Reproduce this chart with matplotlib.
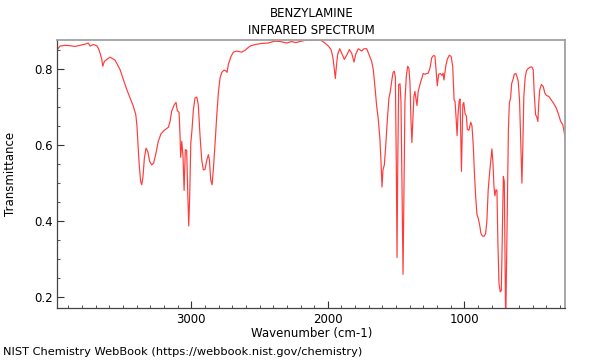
import matplotlib
matplotlib.use("Agg")
import matplotlib.pyplot as plt
from matplotlib.ticker import MultipleLocator

title = "BENZYLAMINE\nINFRARED SPECTRUM"
x_label = "Wavenumber (cm-1)"
y_label = "Transmittance"
footer = "NIST Chemistry WebBook (https://webbook.nist.gov/chemistry)"

wavenumber = [
    3982, 3962, 3925, 3889, 3852, 3815, 3779, 3755, 3742, 3718, 3693, 3681, 3669, 3656, 3649,
    3637, 3596, 3559, 3522, 3498, 3473, 3449, 3425, 3407, 3398, 3390, 3381, 3371, 3363, 3354,
    3344, 3332, 3319, 3305, 3290, 3276, 3259, 3242, 3222, 3198, 3168, 3156, 3144, 3125, 3112,
    3103, 3090, 3083, 3078, 3070, 3061, 3053, 3044, 3034, 3027, 3019, 3012, 3004, 2995, 2985,
    2973, 2960, 2949, 2936, 2924, 2912, 2900, 2887, 2875, 2868, 2858, 2848, 2839, 2826, 2814,
    2802, 2790, 2777, 2760, 2748, 2738, 2729, 2709, 2692, 2667, 2631, 2607, 2570, 2533, 2484,
    2436, 2387, 2350, 2301, 2265, 2235, 2204, 2167, 2118, 2070, 2045, 2021, 1996, 1977, 1964,
    1955, 1945, 1938, 1928, 1913, 1898, 1879, 1859, 1842, 1825, 1808, 1796, 1777, 1752, 1735,
    1715, 1699, 1679, 1667, 1655, 1642, 1630, 1618, 1610, 1603, 1596, 1586, 1576, 1564, 1552,
    1542, 1532, 1522, 1513, 1505, 1498, 1493, 1488, 1481, 1471, 1464, 1457, 1449, 1442, 1435,
    1425, 1415, 1406, 1398, 1391, 1384, 1377, 1369, 1362, 1355, 1347, 1338, 1325, 1313, 1301,
    1288, 1276, 1264, 1251, 1239, 1227, 1215, 1207, 1198, 1188, 1176, 1163, 1156, 1149, 1136,
    1124, 1110, 1097, 1085, 1075, 1068, 1061, 1053, 1046, 1038, 1031, 1026, 1021, 1016, 1011,
    1004, 995, 985, 978, 966, 953, 944, 934, 927, 917, 907, 898, 888, 878, 866,
    854, 844, 835, 825, 815, 805, 798, 790, 783, 776, 768, 761, 754, 746, 737,
    729, 722, 714, 707, 702, 697, 685, 677, 670, 661, 653, 644, 634, 622, 612,
    605, 595, 586, 578, 571, 564, 554, 544, 532, 517, 505, 495, 488, 478, 469,
    461, 454, 447, 435, 422, 410, 398, 381, 364, 346, 326, 309, 294, 279, 267,
    257,
]
transmittance = [
    0.850, 0.859, 0.861, 0.860, 0.858, 0.861, 0.864, 0.867, 0.859, 0.863, 0.860, 0.853, 0.841, 0.824, 0.806,
    0.819, 0.830, 0.822, 0.797, 0.771, 0.745, 0.723, 0.701, 0.679, 0.648, 0.596, 0.543, 0.503, 0.495, 0.517,
    0.565, 0.591, 0.582, 0.556, 0.547, 0.552, 0.578, 0.609, 0.629, 0.638, 0.646, 0.661, 0.688, 0.705, 0.711,
    0.690, 0.685, 0.627, 0.567, 0.609, 0.569, 0.480, 0.587, 0.585, 0.482, 0.387, 0.464, 0.604, 0.640, 0.692,
    0.723, 0.725, 0.705, 0.622, 0.561, 0.534, 0.535, 0.559, 0.574, 0.561, 0.508, 0.495, 0.534, 0.604, 0.675,
    0.736, 0.775, 0.790, 0.796, 0.794, 0.790, 0.811, 0.832, 0.843, 0.846, 0.843, 0.848, 0.859, 0.863, 0.866,
    0.867, 0.872, 0.871, 0.867, 0.871, 0.868, 0.871, 0.874, 0.875, 0.875, 0.873, 0.867, 0.859, 0.850, 0.832,
    0.806, 0.774, 0.803, 0.837, 0.852, 0.840, 0.824, 0.837, 0.850, 0.840, 0.817, 0.837, 0.852, 0.846, 0.852,
    0.852, 0.837, 0.819, 0.797, 0.753, 0.701, 0.666, 0.613, 0.552, 0.489, 0.534, 0.547, 0.596, 0.666, 0.723,
    0.740, 0.767, 0.790, 0.793, 0.777, 0.534, 0.304, 0.534, 0.758, 0.760, 0.714, 0.491, 0.260, 0.491, 0.714,
    0.780, 0.806, 0.801, 0.762, 0.666, 0.606, 0.666, 0.727, 0.740, 0.723, 0.703, 0.740, 0.758, 0.773, 0.787,
    0.785, 0.787, 0.788, 0.802, 0.828, 0.834, 0.833, 0.797, 0.755, 0.785, 0.787, 0.782, 0.788, 0.770, 0.806,
    0.825, 0.835, 0.832, 0.806, 0.718, 0.714, 0.675, 0.624, 0.680, 0.714, 0.720, 0.627, 0.530, 0.620, 0.705,
    0.711, 0.682, 0.675, 0.640, 0.638, 0.659, 0.650, 0.596, 0.534, 0.464, 0.416, 0.407, 0.390, 0.367, 0.360,
    0.360, 0.367, 0.398, 0.482, 0.525, 0.561, 0.589, 0.552, 0.491, 0.466, 0.482, 0.480, 0.342, 0.236, 0.214,
    0.217, 0.360, 0.517, 0.503, 0.300, 0.120, 0.420, 0.640, 0.709, 0.723, 0.761, 0.770, 0.785, 0.787, 0.776,
    0.767, 0.714, 0.596, 0.499, 0.600, 0.727, 0.777, 0.795, 0.800, 0.804, 0.804, 0.797, 0.736, 0.679, 0.673,
    0.661, 0.714, 0.745, 0.758, 0.753, 0.736, 0.729, 0.727, 0.718, 0.709, 0.696, 0.679, 0.661, 0.653, 0.631,
    0.604,
]

x_range = (3982, 260)
y_range = (0.172, 0.876)
x_major = [1000, 2000, 3000]
y_major = [0.2, 0.4, 0.6, 0.8]

fig = plt.figure(figsize=(6.0, 3.6), dpi=100)
ax = fig.add_axes([0.0955, 0.145, 0.8467, 0.745])
ax.plot(wavenumber, transmittance, color="#ff3b3b", linewidth=0.85)
ax.set_xlim(*x_range)
ax.set_ylim(*y_range)
ax.set_xticks(x_major)
ax.set_xticklabels([str(v) for v in x_major])
ax.set_yticks(y_major)
ax.set_yticklabels([f"{v:.1f}" for v in y_major])
ax.xaxis.set_minor_locator(MultipleLocator(100))
ax.yaxis.set_minor_locator(MultipleLocator(0.05))
ax.tick_params(which="major", direction="in", length=5, width=0.8, labelsize=8.5, colors="#333333", labelcolor="black")
ax.tick_params(which="minor", direction="in", length=2.5, width=0.6, colors="#333333")
for s in ["top", "right"]:
    ax.spines[s].set_color("#a0a0a0")
    ax.spines[s].set_linewidth(1.3)
for s in ["left", "bottom"]:
    ax.spines[s].set_color("#444444")
    ax.spines[s].set_linewidth(0.9)

ax.set_xlabel(x_label, fontsize=8.5, labelpad=1)
ax.set_ylabel(y_label, fontsize=8.5, labelpad=12)
ax.set_title(title, fontsize=8.5, linespacing=1.45, pad=4)
fig.text(0.005, 0.022, footer, fontsize=8.2, ha="left", va="center")

fig.savefig("out.png", dpi=100)
